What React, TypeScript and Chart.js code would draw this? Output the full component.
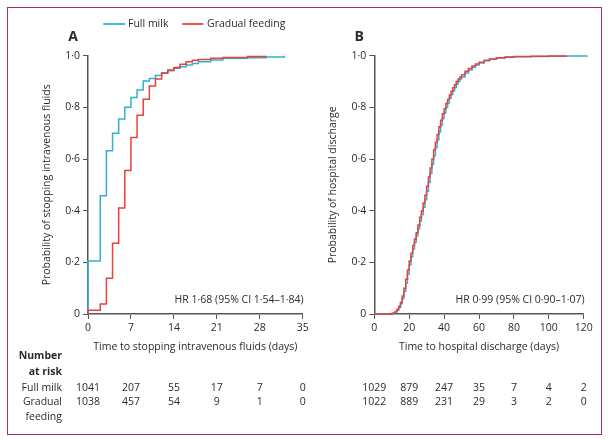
import React, { useEffect, useRef } from 'react';
import { Chart, registerables } from 'chart.js';

Chart.register(...registerables);

// ---------- Data ----------
const LEGEND_LABELS = ['Full milk', 'Gradual feeding'];

// Panel A: time to stopping intravenous fluids (days)
const A_DAYS_FULL = [0, 0, 2, 3, 4, 5, 6, 7, 8, 9, 10, 11, 12, 13, 14, 15, 16, 17, 18, 20, 22, 26, 29, 32];
const A_PROB_FULL = [0, 0.205, 0.458, 0.632, 0.7, 0.755, 0.8, 0.838, 0.867, 0.902, 0.912, 0.923, 0.934, 0.942, 0.951, 0.957, 0.964, 0.97, 0.977, 0.983, 0.99, 0.992, 0.995, 1.0];
const A_DAYS_GRAD = [0, 0, 2, 3, 4, 5, 6, 7, 8, 9, 10, 11, 12, 13, 14, 15, 16, 17, 18, 20, 22, 26, 29];
const A_PROB_GRAD = [0, 0.015, 0.039, 0.138, 0.274, 0.41, 0.556, 0.683, 0.769, 0.831, 0.883, 0.91, 0.932, 0.945, 0.954, 0.967, 0.977, 0.982, 0.985, 0.99, 0.993, 0.997, 1.0];
const A_RISK_TIMES = [0, 7, 14, 21, 28, 35];
const A_RISK_FULL = [1041, 207, 55, 17, 7, 0];
const A_RISK_GRAD = [1038, 457, 54, 9, 1, 0];
const A_HR = 'HR 1·68 (95% CI 1·54–1·84)';
const A_XTITLE = 'Time to stopping intravenous fluids (days)';
const A_YTITLE = 'Probability of stopping intravenous fluids';

// Panel B: time to hospital discharge (days)
const B_DAYS_FULL = [0, 9, 10, 11, 12, 13, 14, 15, 16, 17, 18, 19, 20, 21, 22, 23, 24, 25, 26, 27, 28, 29, 30, 31, 32, 33, 34, 35, 36, 37, 38, 39, 40, 41, 42, 43, 44, 45, 46, 47, 48, 49, 50, 52, 54, 56, 58, 60, 63, 66, 70, 75, 80, 90, 100, 110, 122];
const B_PROB_FULL = [0, 0, 0.001, 0.004, 0.008, 0.015, 0.025, 0.04, 0.06, 0.088, 0.12, 0.155, 0.19, 0.222, 0.252, 0.278, 0.303, 0.33, 0.36, 0.385, 0.413, 0.442, 0.475, 0.51, 0.545, 0.58, 0.613, 0.645, 0.675, 0.705, 0.732, 0.757, 0.778, 0.8, 0.817, 0.835, 0.85, 0.864, 0.877, 0.889, 0.9, 0.91, 0.918, 0.933, 0.945, 0.955, 0.964, 0.972, 0.98, 0.986, 0.991, 0.994, 0.996, 0.997, 0.998, 0.999, 1.0];
const B_DAYS_GRAD = [0, 9, 10, 11, 12, 13, 14, 15, 16, 17, 18, 19, 20, 21, 22, 23, 24, 25, 26, 27, 28, 29, 30, 31, 32, 33, 34, 35, 36, 37, 38, 39, 40, 41, 42, 43, 44, 45, 46, 47, 48, 49, 50, 52, 54, 56, 58, 60, 63, 66, 70, 75, 80, 90, 100, 110];
const B_PROB_GRAD = [0, 0, 0.002, 0.005, 0.01, 0.018, 0.03, 0.045, 0.07, 0.1, 0.135, 0.17, 0.205, 0.235, 0.265, 0.29, 0.315, 0.345, 0.375, 0.4, 0.43, 0.46, 0.495, 0.53, 0.565, 0.6, 0.635, 0.665, 0.695, 0.725, 0.75, 0.775, 0.795, 0.815, 0.83, 0.848, 0.862, 0.876, 0.888, 0.9, 0.91, 0.918, 0.926, 0.94, 0.95, 0.96, 0.968, 0.975, 0.982, 0.987, 0.992, 0.995, 0.997, 0.998, 0.999, 1.0];
const B_RISK_TIMES = [0, 20, 40, 60, 80, 100, 120];
const B_RISK_FULL = [1029, 879, 247, 35, 7, 4, 2];
const B_RISK_GRAD = [1022, 889, 231, 29, 3, 2, 0];
const B_HR = 'HR 0·99 (95% CI 0·90–1·07)';
const B_XTITLE = 'Time to hospital discharge (days)';
const B_YTITLE = 'Probability of hospital discharge';

// ---------- Styles ----------
const FONT = '"Open Sans"';
const FS = 10.5;
const TEXT = '#2b2b2b';
const AXIS = '#555555';
const BLUE = '#33b0d0';
const RED = '#e8403c';
const FRAME = '#b3285a';

const zip = (xs: number[], ys: number[]) => xs.map((x, i) => ({ x, y: ys[i] }));
const fmt = (v: any) => {
  const n = Number(v);
  return n === 0 ? '0' : n.toFixed(1).replace('.', '\u00B7');
};

function baseOptions(opts: {
  xmax: number; xstep: number; xtitle: string; ytitle: string;
  yWidth: number; padRight: number; yTitlePad: number;
}) {
  return {
    responsive: false,
    animation: false as const,
    layout: { padding: { left: 0, right: opts.padRight, top: 55.7, bottom: 85 } },
    plugins: { legend: { display: false }, tooltip: { enabled: false }, title: { display: false } },
    scales: {
      x: {
        type: 'linear' as const,
        min: 0,
        max: opts.xmax,
        ticks: { stepSize: opts.xstep, autoSkip: false, maxRotation: 0, color: TEXT, font: { family: FONT, size: FS }, padding: 3 },
        grid: { drawOnChartArea: false, drawTicks: true, tickLength: 5, color: AXIS, lineWidth: 1 },
        border: { display: true, color: AXIS, width: 1.5 },
        title: { display: true, text: opts.xtitle, color: TEXT, font: { family: FONT, size: FS }, padding: { top: 0, bottom: 1 } },
        afterFit: (s: any) => { s.height = 40; },
      },
      y: {
        type: 'linear' as const,
        min: 0,
        max: 1,
        ticks: { stepSize: 0.2, callback: fmt, color: TEXT, font: { family: FONT, size: FS }, padding: 3 },
        grid: { drawOnChartArea: false, drawTicks: true, tickLength: 5, color: AXIS, lineWidth: 1 },
        border: { display: true, color: AXIS, width: 1.5 },
        title: { display: true, text: opts.ytitle, color: TEXT, font: { family: FONT, size: FS }, padding: { top: opts.yTitlePad, bottom: 0 } },
        afterFit: (s: any) => { s.width = opts.yWidth; },
      },
    },
  };
}

function datasets(fx: number[], fy: number[], gx: number[], gy: number[]) {
  return [
    { label: LEGEND_LABELS[0], data: zip(fx, fy), borderColor: BLUE, backgroundColor: BLUE, borderWidth: 1.5, stepped: true, pointRadius: 0, fill: false, order: 1, clip: false as const },
    { label: LEGEND_LABELS[1], data: zip(gx, gy), borderColor: RED, backgroundColor: RED, borderWidth: 1.5, stepped: true, pointRadius: 0, fill: false, order: 0, clip: false as const },
  ];
}

function overlayPlugin(panel: 'A' | 'B', offsetX: number) {
  return {
    id: 'overlay' + panel,
    afterDraw(chart: any) {
      const ctx = chart.ctx as CanvasRenderingContext2D;
      const area = chart.chartArea;
      const xs = chart.scales.x;
      const times = panel === 'A' ? A_RISK_TIMES : B_RISK_TIMES;
      const full = panel === 'A' ? A_RISK_FULL : B_RISK_FULL;
      const grad = panel === 'A' ? A_RISK_GRAD : B_RISK_GRAD;
      ctx.save();
      ctx.fillStyle = TEXT;
      // panel letter
      ctx.font = `bold 14px ${FONT}`;
      ctx.textAlign = 'center';
      ctx.textBaseline = 'middle';
      ctx.fillText(panel, area.left - 15, 37.5);
      // HR text
      ctx.font = `${FS}px ${FONT}`;
      ctx.textAlign = 'right';
      ctx.fillText(panel === 'A' ? A_HR : B_HR, area.right + 1, 300);
      // risk numbers
      ctx.textAlign = 'center';
      times.forEach((t, i) => {
        const x = xs.getPixelForValue(t);
        ctx.fillText(String(full[i]), x, 388);
        ctx.fillText(String(grad[i]), x, 402);
      });
      if (panel === 'A') {
        // row labels
        ctx.textAlign = 'right';
        ctx.font = `bold ${FS}px ${FONT}`;
        ctx.fillText('Number', 62 - offsetX, 356);
        ctx.fillText('at risk', 62 - offsetX, 372);
        ctx.font = `${FS}px ${FONT}`;
        ctx.fillText('Full milk', 62 - offsetX, 388);
        ctx.fillText('Gradual', 62 - offsetX, 402);
        ctx.fillText('feeding', 62 - offsetX, 417.5);
        // legend
        const items = [
          { x0: 103.3, x1: 125, tx: 128, color: BLUE, text: LEGEND_LABELS[0] },
          { x0: 182.3, x1: 203.3, tx: 207, color: RED, text: LEGEND_LABELS[1] },
        ];
        ctx.textAlign = 'left';
        items.forEach((it) => {
          ctx.strokeStyle = it.color;
          ctx.lineWidth = 1.8;
          ctx.beginPath();
          ctx.moveTo(it.x0, 24);
          ctx.lineTo(it.x1, 24);
          ctx.stroke();
          ctx.fillStyle = TEXT;
          ctx.fillText(it.text, it.tx, 24);
        });
      }
      ctx.restore();
    },
  };
}

export default function App() {
  const refA = useRef<HTMLCanvasElement>(null);
  const refB = useRef<HTMLCanvasElement>(null);

  useEffect(() => {
    Chart.defaults.font.family = FONT;
    const a = new Chart(refA.current!, {
      type: 'line',
      data: { datasets: datasets(A_DAYS_FULL, A_PROB_FULL, A_DAYS_GRAD, A_PROB_GRAD) as any },
      options: baseOptions({ xmax: 35, xstep: 7, xtitle: A_XTITLE, ytitle: A_YTITLE, yWidth: 88, padRight: 12.3, yTitlePad: 41 }) as any,
      plugins: [overlayPlugin('A', 0)],
    });
    const b = new Chart(refB.current!, {
      type: 'line',
      data: { datasets: datasets(B_DAYS_FULL, B_PROB_FULL, B_DAYS_GRAD, B_PROB_GRAD) as any },
      options: baseOptions({ xmax: 120, xstep: 20, xtitle: B_XTITLE, ytitle: B_YTITLE, yWidth: 59.3, padRight: 31.3, yTitlePad: 12 }) as any,
      plugins: [overlayPlugin('B', 315)],
    });
    return () => { a.destroy(); b.destroy(); };
  }, []);

  return (
    <div style={{ position: 'absolute', left: 0, top: 0, width: 615, height: 439, background: '#fff' }}>
      <canvas ref={refA} width={315} height={439} style={{ position: 'absolute', left: 0, top: 0, width: 315, height: 439 }} />
      <canvas ref={refB} width={300} height={439} style={{ position: 'absolute', left: 315, top: 0, width: 300, height: 439 }} />
      <div style={{ position: 'absolute', left: 7, top: 7, width: 595, height: 428, border: `1.5px solid ${FRAME}`, boxSizing: 'border-box', pointerEvents: 'none' }} />
    </div>
  );
}
